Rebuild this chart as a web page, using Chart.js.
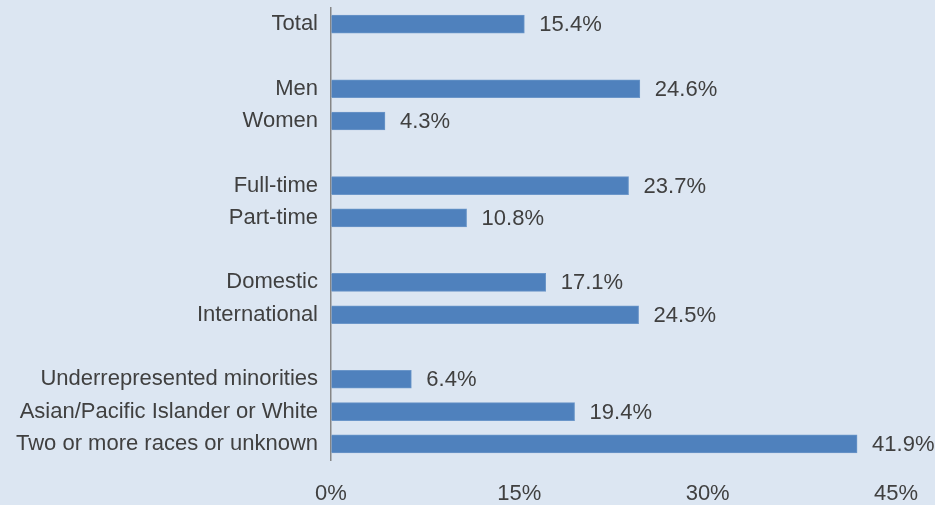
<!DOCTYPE html>
<html>
<head>
<meta charset="utf-8">
<script src="https://cdn.jsdelivr.net/npm/chart.js@4"></script>
<style>
  html, body { margin: 0; padding: 0; background: #dce6f2; }
  #wrap { width: 935px; height: 505px; }
</style>
</head>
<body>
<div id="wrap"><canvas id="rateChart"></canvas></div>
<script>
// blank entries are the spacers between groups
const categories = ['Total', '', 'Men', 'Women', '', 'Full-time', 'Part-time', '', 'Domestic', 'International', '', 'Underrepresented minorities', 'Asian/Pacific Islander or White', 'Two or more races or unknown'];
const rates = [15.4, null, 24.6, 4.3, null, 23.7, 10.8, null, 17.1, 24.5, null, 6.4, 19.4, 41.9];
const tickValues = [0, 15, 30, 45];

const FONT = { family: 'Liberation Sans', size: 22 };
const TEXT = '#404040';

// draws the "15.4%" labels at the end of each bar
const valueLabels = {
  id: 'valueLabels',
  afterDatasetsDraw(chart) {
    const ctx = chart.ctx;
    const meta = chart.getDatasetMeta(0);
    ctx.save();
    ctx.font = FONT.size + 'px ' + FONT.family;
    ctx.fillStyle = TEXT;
    ctx.textAlign = 'left';
    ctx.textBaseline = 'middle';
    meta.data.forEach((bar, i) => {
      if (rates[i] == null) return;
      ctx.fillText(rates[i].toFixed(1) + '%', bar.x + 15, bar.y + 1);
    });
    ctx.restore();
  }
};

new Chart(document.getElementById('rateChart'), {
  type: 'bar',
  data: {
    labels: categories,
    datasets: [{
      data: rates,
      backgroundColor: '#4f81bd',
      borderColor: '#6b96c9',
      borderWidth: 1,
      borderSkipped: 'left',
      barThickness: 18
    }]
  },
  options: {
    indexAxis: 'y',
    responsive: true,
    maintainAspectRatio: false,
    animation: false,
    layout: { padding: { top: 8, right: 39, bottom: 0, left: 0 } },
    plugins: { legend: { display: false }, tooltip: { enabled: false } },
    scales: {
      x: {
        min: 0,
        max: 45,
        afterBuildTicks(scale) { scale.ticks = tickValues.map(v => ({ value: v })); },
        afterFit(scale) {
          scale.height = 45;
          scale.paddingLeft = 0;
          scale.paddingRight = 0;
        },
        ticks: { color: TEXT, font: FONT, padding: 21, maxRotation: 0, callback: v => v + '%' },
        grid: { drawOnChartArea: false, drawTicks: false },
        border: { display: false }
      },
      y: {
        afterFit(scale) {
          scale.width = 331;
          scale.paddingTop = 0;
          scale.paddingBottom = 0;
        },
        ticks: { color: TEXT, font: FONT, padding: 13, autoSkip: false },
        grid: { drawOnChartArea: false, drawTicks: false },
        border: { display: true, color: '#868686', width: 1.5 }
      }
    }
  },
  plugins: [valueLabels]
});
</script>
</body>
</html>
